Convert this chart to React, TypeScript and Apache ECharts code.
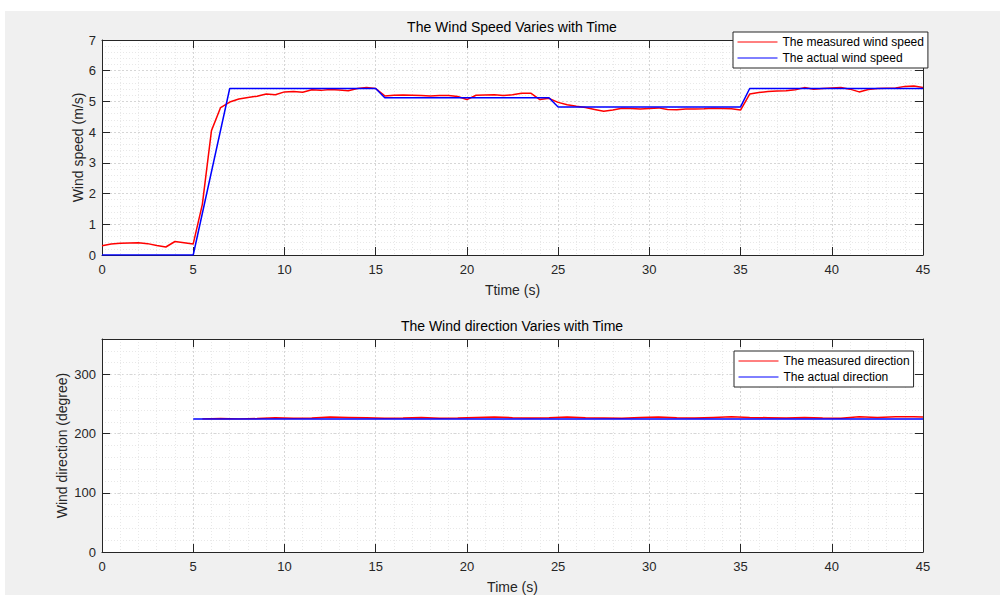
import React, { useEffect, useRef } from "react";
import * as echarts from "echarts";

const speedTime = [
  0, 0.5, 1, 1.5, 2, 2.5, 3, 3.5, 4, 4.5, 5, 5.5, 6, 6.5, 7, 7.5, 8, 8.5, 9, 9.5,
  10, 10.5, 11, 11.5, 12, 12.5, 13, 13.5, 14, 14.5, 15, 15.5, 16, 16.5, 17, 17.5, 18, 18.5, 19, 19.5,
  20, 20.5, 21, 21.5, 22, 22.5, 23, 23.5, 24, 24.5, 25, 25.5, 26, 26.5, 27, 27.5, 28, 28.5, 29, 29.5,
  30, 30.5, 31, 31.5, 32, 32.5, 33, 33.5, 34, 34.5, 35, 35.5, 36, 36.5, 37, 37.5, 38, 38.5, 39, 39.5,
  40, 40.5, 41, 41.5, 42, 42.5, 43, 43.5, 44, 44.5, 45,
];
const measuredSpeed = [
  0.3, 0.36, 0.38, 0.39, 0.4, 0.37, 0.31, 0.26, 0.44, 0.4, 0.36, 1.65, 4.05, 4.8, 4.98, 5.08, 5.13, 5.17, 5.24, 5.22,
  5.31, 5.32, 5.3, 5.38, 5.36, 5.39, 5.37, 5.35, 5.42, 5.45, 5.42, 5.18, 5.2, 5.21, 5.2, 5.19, 5.18, 5.19, 5.19, 5.16,
  5.06, 5.2, 5.21, 5.22, 5.19, 5.22, 5.27, 5.27, 5.06, 5.1, 4.97, 4.89, 4.84, 4.8, 4.74, 4.68, 4.72, 4.78, 4.77, 4.75,
  4.77, 4.79, 4.74, 4.73, 4.75, 4.75, 4.76, 4.78, 4.77, 4.76, 4.72, 5.24, 5.29, 5.32, 5.34, 5.35, 5.38, 5.45, 5.4, 5.42,
  5.44, 5.45, 5.4, 5.31, 5.39, 5.42, 5.43, 5.44, 5.49, 5.5, 5.45,
];
const actualSpeedTime = [0, 5, 7, 15, 15.5, 24.5, 25, 35, 35.5, 45];
const actualSpeed = [0, 0, 5.42, 5.42, 5.12, 5.12, 4.82, 4.82, 5.42, 5.42];

const directionTime = [
  5.5, 6.5, 7.5, 8.5, 9.5, 10.5, 11.5, 12.5, 13.5, 14.5, 15.5, 16.5, 17.5, 18.5, 19.5, 20.5, 21.5, 22.5, 23.5, 24.5,
  25.5, 26.5, 27.5, 28.5, 29.5, 30.5, 31.5, 32.5, 33.5, 34.5, 35.5, 36.5, 37.5, 38.5, 39.5, 40.5, 41.5, 42.5, 43.5, 44.5, 45,
];
const measuredDirection = [
  225, 225.5, 225, 225.5, 227, 226, 226.5, 228, 227.5, 227, 226, 226.5, 227.5, 226, 226.5, 227.5, 228, 227, 226.5, 227,
  228, 227, 226.5, 226, 227.5, 228, 227, 226.5, 227.5, 228.5, 227.5, 227, 226.5, 227.5, 226.5, 226, 228.5, 227.5, 228.5, 228.5, 228,
];
const actualDirectionTime = [5, 45];
const actualDirection = [225, 225];

const xTicks = { min: 0, max: 45, interval: 5 };
const speedTicks = { min: 0, max: 7, interval: 1 };
const dirTicks = { min: 0, max: 360, interval: 100, minorInterval: 20 };

const zip = (xs: number[], ys: number[]) => xs.map((x, i) => [x, ys[i]]);

const FONT = "'Liberation Sans', Arial, Helvetica, sans-serif";
const AX = "#262626";
const majorGrid = { show: true, lineStyle: { color: "#d6d6d6", width: 1, type: [2, 2] } };
const minorGrid = { show: true, lineStyle: { color: "#e8e8e8", width: 1, type: [1, 2] } };

function bottomX(gridIndex: number, name: string) {
  return {
    type: "value",
    gridIndex,
    position: "bottom",
    ...xTicks,
    name,
    nameLocation: "middle",
    nameGap: 28,
    nameMoveOverlap: false,
    nameTextStyle: { fontSize: 14, color: AX, fontFamily: FONT },
    axisLine: { show: true, onZero: false, lineStyle: { color: AX, width: 1 } },
    axisTick: { show: true, inside: true, length: 8, lineStyle: { color: AX } },
    axisLabel: { show: true, fontSize: 13, color: AX, fontFamily: FONT, margin: 8 },
    splitLine: majorGrid,
    minorTick: { show: false, splitNumber: 5 },
    minorSplitLine: minorGrid,
  };
}
function topX(gridIndex: number) {
  return {
    type: "value",
    gridIndex,
    position: "top",
    ...xTicks,
    axisLine: { show: true, onZero: false, lineStyle: { color: AX, width: 1 } },
    axisTick: { show: true, inside: true, length: 8, lineStyle: { color: AX } },
    axisLabel: { show: false },
    splitLine: { show: false },
  };
}
function legendBox(names: string[], left: number, top: number) {
  return {
    data: names,
    orient: "vertical",
    left,
    top,
    padding: [4, 4, 4, 4],
    itemWidth: 40,
    itemHeight: 12,
    itemGap: 4,
    backgroundColor: "#ffffff",
    borderColor: AX,
    borderWidth: 1,
    selectedMode: false,
    itemStyle: { opacity: 0 },
    lineStyle: { width: 1 },
    textStyle: { fontSize: 12, color: "#000", fontFamily: FONT },
  };
}

export default function App() {
  const ref = useRef<HTMLDivElement>(null);
  useEffect(() => {
    if (!ref.current) return;
    const chart = echarts.init(ref.current, undefined, { renderer: "svg" });
    const option: any = {
      animation: false,
      backgroundColor: "#f0f0f0",
      textStyle: { fontFamily: FONT },
      graphic: [
        { type: "rect", shape: { x: 0, y: 0, width: 1000, height: 11 }, style: { fill: "#ffffff" }, silent: true },
        { type: "rect", shape: { x: 0, y: 0, width: 5, height: 595 }, style: { fill: "#ffffff" }, silent: true },
      ],
      title: [
        {
          text: "The Wind Speed Varies with Time",
          left: 512,
          top: 20,
          textAlign: "center",
          padding: 0,
          textStyle: { fontSize: 14, fontWeight: "normal", color: "#000", fontFamily: FONT },
        },
        {
          text: "The Wind direction Varies with Time",
          left: 512,
          top: 319,
          textAlign: "center",
          padding: 0,
          textStyle: { fontSize: 14, fontWeight: "normal", color: "#000", fontFamily: FONT },
        },
      ],
      legend: [
        legendBox(["The measured wind speed", "The actual wind speed"], 733, 32),
        legendBox(["The measured direction", "The actual direction"], 734, 351),
      ],
      grid: [
        { left: 102, top: 40, width: 821, height: 215, show: true, backgroundColor: "#ffffff", borderWidth: 0 },
        { left: 102, top: 339, width: 821, height: 215, show: true, backgroundColor: "#ffffff", borderWidth: 0 },
      ],
      xAxis: [bottomX(0, "Ttime (s)"), topX(0), bottomX(1, "Time (s)"), topX(1)],
      yAxis: [
        {
          type: "value",
          gridIndex: 0,
          position: "left",
          ...speedTicks,
          name: "Wind speed (m/s)",
          nameLocation: "middle",
          nameGap: 17,
          nameMoveOverlap: false,
          nameTextStyle: { fontSize: 14, color: AX, fontFamily: FONT },
          axisLine: { show: true, onZero: false, lineStyle: { color: AX } },
          axisTick: { show: true, inside: true, length: 8, lineStyle: { color: AX } },
          axisLabel: { show: true, fontSize: 13, color: AX, fontFamily: FONT, margin: 6 },
          splitLine: majorGrid,
          minorTick: { show: false, splitNumber: 5 },
          minorSplitLine: minorGrid,
        },
        {
          type: "value",
          gridIndex: 0,
          position: "right",
          ...speedTicks,
          axisLine: { show: true, onZero: false, lineStyle: { color: AX } },
          axisTick: { show: true, inside: true, length: 8, lineStyle: { color: AX } },
          axisLabel: { show: false },
          splitLine: { show: false },
        },
        {
          type: "value",
          gridIndex: 1,
          position: "left",
          min: dirTicks.min,
          max: dirTicks.max,
          interval: dirTicks.interval,
          name: "Wind direction (degree)",
          nameLocation: "middle",
          nameGap: 33,
          nameMoveOverlap: false,
          nameTextStyle: { fontSize: 14, color: AX, fontFamily: FONT },
          axisLine: { show: true, onZero: false, lineStyle: { color: AX } },
          axisTick: { show: true, inside: true, length: 8, lineStyle: { color: AX } },
          axisLabel: { show: true, fontSize: 13, color: AX, fontFamily: FONT, margin: 6, showMaxLabel: false },
          splitLine: majorGrid,
        },
        {
          type: "value",
          gridIndex: 1,
          position: "right",
          min: dirTicks.min,
          max: dirTicks.max,
          interval: dirTicks.interval,
          axisLine: { show: true, onZero: false, lineStyle: { color: AX } },
          axisTick: { show: true, inside: true, length: 8, lineStyle: { color: AX } },
          axisLabel: { show: false },
          splitLine: { show: false },
        },
        {
          type: "value",
          gridIndex: 1,
          position: "left",
          offset: 0,
          min: dirTicks.min,
          max: dirTicks.max,
          interval: dirTicks.minorInterval,
          axisLine: { show: false },
          axisTick: { show: false },
          axisLabel: { show: false },
          splitLine: minorGrid,
        },
      ],
      series: [
        {
          name: "The measured wind speed",
          type: "line",
          xAxisIndex: 0,
          yAxisIndex: 0,
          data: zip(speedTime, measuredSpeed),
          showSymbol: false,
          symbol: "none",
          lineStyle: { color: "#ff0000", width: 1.5 },
          itemStyle: { color: "#ff0000" },
          z: 3,
        },
        {
          name: "The actual wind speed",
          type: "line",
          xAxisIndex: 0,
          yAxisIndex: 0,
          data: zip(actualSpeedTime, actualSpeed),
          showSymbol: false,
          symbol: "none",
          lineStyle: { color: "#0000ff", width: 1.5 },
          itemStyle: { color: "#0000ff" },
          z: 4,
        },
        {
          name: "The measured direction",
          type: "line",
          xAxisIndex: 2,
          yAxisIndex: 2,
          data: zip(directionTime, measuredDirection),
          showSymbol: false,
          symbol: "none",
          lineStyle: { color: "#ff0000", width: 1.5 },
          itemStyle: { color: "#ff0000" },
          z: 3,
        },
        {
          name: "The actual direction",
          type: "line",
          xAxisIndex: 2,
          yAxisIndex: 2,
          data: zip(actualDirectionTime, actualDirection),
          showSymbol: false,
          symbol: "none",
          lineStyle: { color: "#0000ff", width: 1.5 },
          itemStyle: { color: "#0000ff" },
          z: 4,
        },
      ],
    };
    chart.setOption(option);
    return () => chart.dispose();
  }, []);
  return (
    <div
      ref={ref}
      style={{ position: "fixed", left: 0, top: 0, width: 1000, height: 595 }}
    />
  );
}
